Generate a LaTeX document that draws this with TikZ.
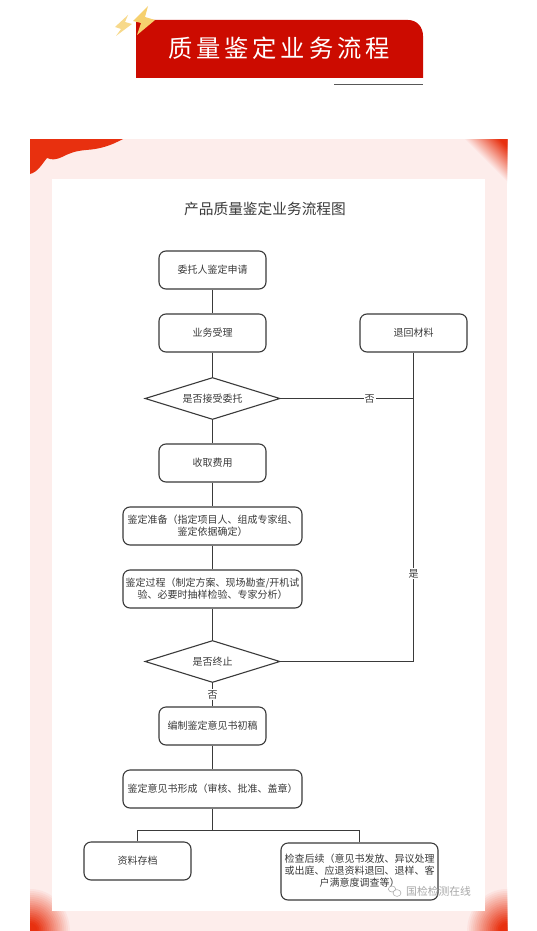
\documentclass[tikz,border=0pt]{standalone}
\usepackage{fontspec}
\setmainfont{Noto Sans CJK SC}
\usetikzlibrary{shapes.geometric,positioning,calc}
\definecolor{ink}{HTML}{3A3A3A}
\definecolor{headred}{HTML}{CC0B00}
\definecolor{ribbon}{HTML}{E8300F}
\definecolor{framepink}{HTML}{FDEDEB}
\definecolor{bolt}{HTML}{F6D06E}
\definecolor{wmgrey}{HTML}{A8A8A8}
\tikzset{
  flowbox/.style={draw=ink,line width=1.1pt,rounded corners=7pt,inner sep=0pt,align=center,text=ink,
     font=\fontsize{10}{12}\selectfont},
  shortbox/.style={flowbox,minimum width=107pt,minimum height=38pt},
  widebox/.style={flowbox,minimum width=179pt,minimum height=38pt},
  choice/.style={draw=ink,line width=1.1pt,diamond,aspect=3.2,minimum width=135pt,minimum height=42pt,inner sep=0pt,text=ink,
     font=\fontsize{10}{12}\selectfont},
  link/.style={draw=ink,line width=1.1pt},
  tag/.style={fill=white,inner sep=1pt,text=ink,font=\fontsize{10}{12}\selectfont},
}
\begin{document}
\begin{tikzpicture}[x=1pt,y=-1pt]
\useasboundingbox (0,0) rectangle (537,931);
\fill[white] (0,0) rectangle (537,931);
% header
\fill[headred] (136,20) -- (408,20) .. controls (417,20) and (423,27) .. (423,36) -- (423,78) -- (136,78) -- cycle;
\node[text=white,font=\fontsize{24.3}{28}\selectfont\addfontfeature{LetterSpace=16}] (head) at (279,48.5) {质量鉴定业务流程};
\draw[color=ink!85,line width=1.2pt] (334,84.5) -- (423,84.5);
\fill[bolt] (148,6) -- (133,21) -- (141,23) -- (137,35) -- (155,20) -- (145,17) -- cycle;
\fill[bolt,opacity=.8] (128,15) -- (115,27) -- (121,29) -- (116,36) -- (132,24) -- (125,22) -- cycle;
% frame
\begin{scope}
\clip (30,139) rectangle (507,931);
\fill[framepink] (30,139) rectangle (507,931);
\foreach \d in {44,42,...,2}{
  \pgfmathsetmacro{\p}{min(100,100*(1-\d/44)*1.25)}
  \fill[ribbon!\p!framepink] (507-\d,139) -- (507,139) -- (507,139+\d) -- cycle;
  \fill[ribbon!\p!framepink] (30,931) ellipse[x radius={\d*0.95},y radius={\d*1.0}];
  \fill[ribbon!\p!framepink] (507,931) ellipse[x radius={\d*0.95},y radius={\d*1.0}];
}
\fill[ribbon] (30,139) -- (123,139) .. controls (110,146) and (100,149) .. (86,150)
  .. controls (75,151) and (70,153) .. (62,157) .. controls (55,160) and (52,160) .. (47,158)
  .. controls (42,164) and (38,172) .. (30,174) -- cycle;
\end{scope}
\fill[white] (52,179) rectangle (485,911);
% title
\node[text=ink,font=\fontsize{14.7}{16}\selectfont] (title) at (265,208.5) {产品质量鉴定业务流程图};
% nodes
\node[shortbox] (apply) at (212.5,270) {委托人鉴定申请};
\node[shortbox] (accept) at (212.5,333) {业务受理};
\node[shortbox] (back) at (413.5,333) {退回材料};
\node[choice] (q1) at (212.5,398.5) {是否接受委托};
\node[shortbox] (fee) at (212.5,463) {收取费用};
\node[widebox] (prep) at (212.5,526) {鉴定准备（指定项目人、组成专家组、\\鉴定依据确定）};
\node[widebox] (proc) at (212.5,589) {鉴定过程（制定方案、现场勘查/开机试\\验、必要时抽样检验、专家分析）};
\node[choice] (q2) at (212.5,661.5) {是否终止};
\node[shortbox] (draft) at (212.5,726) {编制鉴定意见书初稿};
\node[widebox] (form) at (212.5,789) {鉴定意见书形成（审核、批准、盖章）};
\node[shortbox] (store) at (137.5,861) {资料存档};
\node[flowbox,minimum width=157pt,minimum height=57pt] (after) at (359.5,871.5) {};
\node[text=ink,align=center,inner sep=0pt,font=\fontsize{10}{12}\selectfont] (aftertext) at (359.5,871) {检查后续（意见书发放、异议处理\\或出庭、应退资料退回、退样、客\\户满意度调查等）};
% connectors
\coordinate (fork) at (212.5,830.5);
\draw[link] (apply) -- (accept);
\draw[link] (accept) -- (q1);
\draw[link] (q1) -- (fee);
\draw[link] (fee) -- (prep);
\draw[link] (prep) -- (proc);
\draw[link] (proc) -- (q2);
\draw[link] (q2) -- node[tag] (no2) {否} (draft);
\draw[link] (draft) -- (form);
\draw[link] (form) -- (fork);
\draw[link] (store.north) |- (fork);
\draw[link] (after.north) |- (fork);
\draw[link] (q1.east) -- node[tag,pos=0.67] (no1) {否} (q1.east -| back.south) -- (back.south);
\draw[link] (q2.east) -- (q2.east -| back.south) -- node[tag,pos=0.285] (yes) {是} (back.south);
% watermark
\draw[wmgrey,line width=.5pt] (392,889) ellipse[x radius=3.6,y radius=3];
\draw[wmgrey,line width=.5pt,fill=white] (397,893) ellipse[x radius=4,y radius=3.4];
\node[text=wmgrey,font=\fontsize{10.8}{12}\selectfont,inner sep=0pt,anchor=west] (wm) at (406,891.5) {国检检测在线};
\end{tikzpicture}
\end{document}
